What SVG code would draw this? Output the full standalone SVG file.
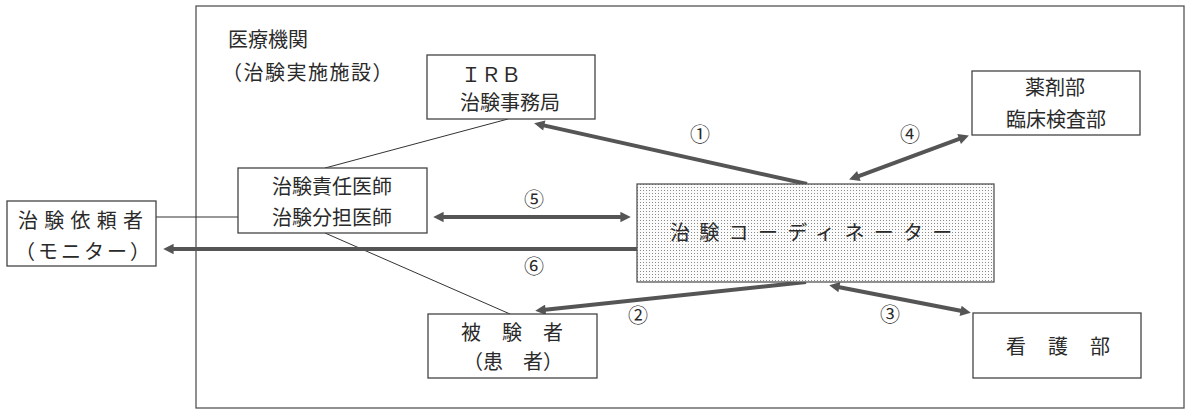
<svg xmlns="http://www.w3.org/2000/svg" width="1186" height="410" viewBox="0 0 1186 410">
<defs>
<style>
.box{fill:#fff;stroke:#444;stroke-width:1.3}
.frame{fill:none;stroke:#555;stroke-width:1.3}
.t{font-family:"Noto Sans CJK JP","Liberation Serif",sans-serif;font-size:20px;fill:#2a2a2a;text-anchor:middle}
.tl{font-family:"Noto Sans CJK JP","Liberation Serif",sans-serif;font-size:20px;fill:#2a2a2a}
.thin{stroke:#333;stroke-width:1;fill:none}
.thick{stroke:#555;stroke-width:4;fill:none}
</style>
<pattern id="dots" width="3" height="3" patternUnits="userSpaceOnUse">
<rect width="3" height="3" fill="#fbfbfb"/>
<rect x="1" y="1" width="1" height="1" fill="#8a8a8a"/>
</pattern>
<marker id="ah" viewBox="0 0 10 10" refX="5" refY="5" markerWidth="3.2" markerHeight="2.6" orient="auto-start-reverse" markerUnits="strokeWidth">
<path d="M0,0 L10,5 L0,10 z" fill="#555"/>
</marker>
</defs>
<rect class="frame" x="196" y="6" width="988" height="402"/>
<text class="tl" x="228" y="47">医療機関</text>
<text class="tl" x="222" y="80" letter-spacing="1.5">（治験実施施設）</text>
<g id="connectors">
<line class="thin" x1="508" y1="119" x2="325" y2="168"/>
<line class="thin" x1="156" y1="217" x2="238" y2="217"/>
<line class="thin" x1="325" y1="233" x2="510" y2="314"/>
<line class="thick" x1="807" y1="184" x2="539.2" y2="124.4" marker-end="url(#ah)"/>
<line class="thick" x1="854" y1="177.8" x2="964" y2="137.2" marker-start="url(#ah)" marker-end="url(#ah)"/>
<line class="thick" x1="438.4" y1="217" x2="625.6" y2="217" marker-start="url(#ah)" marker-end="url(#ah)"/>
<line class="thick" x1="637" y1="249" x2="168.4" y2="249" marker-end="url(#ah)"/>
<line class="thick" x1="806" y1="282" x2="540.4" y2="310.3" marker-end="url(#ah)"/>
<line class="thick" x1="834.3" y1="286.2" x2="965.7" y2="311.8" marker-start="url(#ah)" marker-end="url(#ah)"/>
<text class="t" x="700" y="142">①</text>
<text class="t" x="910" y="142">④</text>
<text class="t" x="534" y="207">⑤</text>
<text class="t" x="534" y="274">⑥</text>
<text class="t" x="638" y="323">②</text>
<text class="t" x="890" y="322">③</text>
</g>
<g id="irb">
<rect class="box" x="427" y="55" width="168" height="64"/>
<text class="tl" x="461" y="82">ＩＲＢ</text>
<text class="t" x="510" y="110">治験事務局</text>
</g>
<g id="yakuzai">
<rect class="box" x="972" y="71" width="168" height="64"/>
<text class="t" x="1055" y="95">薬剤部</text>
<text class="t" x="1056" y="127">臨床検査部</text>
</g>
<g id="sekinin">
<rect class="box" x="238" y="168" width="189" height="65"/>
<text class="t" x="332" y="194">治験責任医師</text>
<text class="t" x="332" y="225">治験分担医師</text>
</g>
<g id="irai">
<rect class="box" x="7" y="201" width="149" height="65"/>
<text class="tl" x="18" y="228" letter-spacing="6.25">治験依頼者</text>
<text class="tl" x="15" y="259" font-size="19" letter-spacing="3">（モニター）</text>
</g>
<g id="coordinator">
<rect x="637" y="184" width="357" height="98" fill="url(#dots)" stroke="#555" stroke-width="1.3"/>
<text class="tl" x="670" y="240" letter-spacing="9.3">治験コーディネーター</text>
</g>
<g id="hikensha">
<rect class="box" x="428" y="314" width="169" height="64"/>
<text class="tl" x="461" y="340" letter-spacing="21">被験者</text>
<text class="tl" x="463" y="369" font-size="19">（患　者）</text>
</g>
<g id="kango">
<rect class="box" x="973" y="313" width="168" height="65"/>
<text class="tl" x="1006" y="354" letter-spacing="22">看護部</text>
</g>
</svg>
